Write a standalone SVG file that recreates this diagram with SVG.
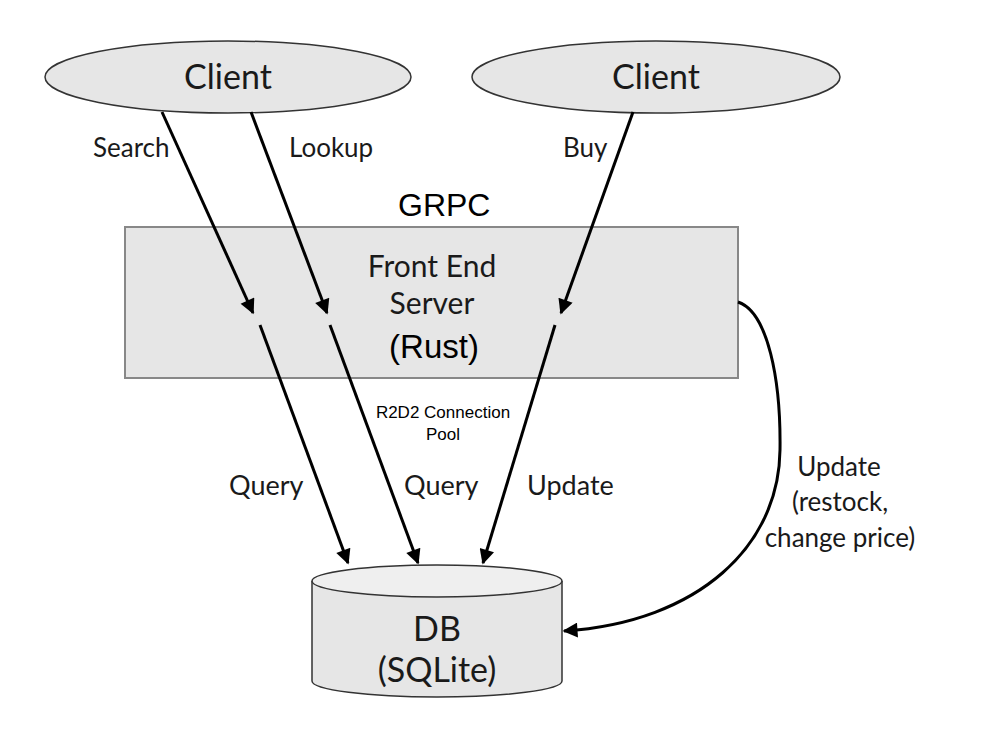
<svg xmlns="http://www.w3.org/2000/svg" width="992" height="736" viewBox="0 0 992 736">
<style>
.g{font-family:Lato,"Open Sans",sans-serif;fill:#1a1a1a}
.a{font-family:"Liberation Sans",Arial,sans-serif;fill:#000}
.shape{fill:#e6e6e6;stroke:#333;stroke-width:1.5}
.box{fill:#e6e6e6;stroke:#888;stroke-width:2}
.ln{fill:none;stroke:#000;stroke-width:3}
</style>
<defs>
<marker id="ah" viewBox="0 0 10 10" refX="9" refY="5" markerWidth="5.5" markerHeight="5" orient="auto" markerUnits="strokeWidth">
<path d="M0,0 L10,5 L0,10 z" fill="#000"/>
</marker>
</defs>
<rect width="992" height="736" fill="#fff"/>
<g id="client1">
<ellipse class="shape" cx="228" cy="77" rx="183" ry="36"/>
<text class="g" x="228" y="89" font-size="34" text-anchor="middle">Client</text>
</g>
<g id="client2">
<ellipse class="shape" cx="656" cy="77" rx="184" ry="36"/>
<text class="g" x="656" y="89" font-size="34" text-anchor="middle">Client</text>
</g>
<text class="a" x="398" y="216" font-size="32">GRPC</text>
<g id="frontend">
<rect class="box" x="125" y="227" width="613" height="151"/>
<text class="g" x="432" y="277" font-size="30" text-anchor="middle">Front End</text>
<text class="g" x="432" y="314" font-size="30" text-anchor="middle">Server</text>
<text class="a" x="434" y="358" font-size="33" text-anchor="middle">(Rust)</text>
</g>
<g id="db">
<path class="shape" d="M312,581 L312,681 A125,16 0 0 0 562,681 L562,581"/>
<ellipse class="shape" cx="437" cy="581" rx="125" ry="16" style="fill:#efefef"/>
<text class="g" x="437" y="641" font-size="34" text-anchor="middle">DB</text>
<text class="g" x="437" y="682" font-size="34" text-anchor="middle">(SQLite)</text>
</g>
<g id="connectors">
<line class="ln" x1="162" y1="112" x2="253" y2="313" marker-end="url(#ah)"/>
<line class="ln" x1="260" y1="325" x2="348" y2="563" marker-end="url(#ah)"/>
<line class="ln" x1="251" y1="112" x2="327" y2="313" marker-end="url(#ah)"/>
<line class="ln" x1="330" y1="325" x2="418" y2="563" marker-end="url(#ah)"/>
<line class="ln" x1="633" y1="112" x2="561" y2="313" marker-end="url(#ah)"/>
<line class="ln" x1="555" y1="325" x2="483" y2="563" marker-end="url(#ah)"/>
<path class="ln" d="M738,302 C768,312 781,380 780,450 C779,545 700,622 564,631" marker-end="url(#ah)"/>
</g>
<g id="labels">
<text class="g" x="93" y="157" font-size="26">Search</text>
<text class="g" x="289" y="157" font-size="26">Lookup</text>
<text class="g" x="563" y="157" font-size="26">Buy</text>
<text class="a" x="443" y="418" font-size="17" text-anchor="middle">R2D2 Connection</text>
<text class="a" x="443" y="440" font-size="17" text-anchor="middle">Pool</text>
<text class="g" x="229" y="495" font-size="27">Query</text>
<text class="g" x="404" y="495" font-size="27">Query</text>
<text class="g" x="527" y="495" font-size="27">Update</text>
<text class="g" x="839" y="476" font-size="26" text-anchor="middle">Update</text>
<text class="g" x="840" y="511" font-size="26" text-anchor="middle">(restock,</text>
<text class="g" x="840" y="547" font-size="26" text-anchor="middle">change price)</text>
</g>
</svg>
